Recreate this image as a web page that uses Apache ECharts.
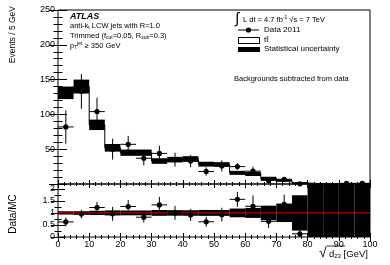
<!DOCTYPE html>
<html>
<head>
<meta charset="utf-8">
<script src="https://cdn.jsdelivr.net/npm/echarts@6/dist/echarts.min.js"></script>
<style>html,body{margin:0;padding:0;background:#fff;}#c{width:390px;height:265px;}</style>
</head>
<body>
<div id="c"></div>
<script>
// ---- data ----
const binLow = [0,5,10,15,20,25,30,35,40,45,50,55,60,65,70,75,80,85,90,95];
const binWidth = 5;
const mcValues = [131,140,85,52,45,45,33,35,36,28.5,28,16,14.5,8,5,1.5,0.3,0.3,0.3,0.3];
const mcStatErr = [9,10,7.5,5.5,4.5,4.5,4,4,4,3.5,3.4,2.9,3,2.4,1.9,1.1,0.5,0.5,0.5,0.5];
const dataX = [2.5,7.5,12.5,17.5,22.5,27.5,32.5,37.5,42.5,47.5,52.5,57.5,62.5,67.5,72.5,77.5,92.5,97.5];
const dataY = [82,133,104,50,57,37,44,35,33,18,26,25,18.5,5.2,6.8,0.2,1,1];
const dataErr = [24,25,20,15,12,10,11,10,9,6,8,5,6.5,2.2,2,0.3,1,1];
const mainTicks = [0,50,100,150,200,250];
const ratioTicks = [0,0.5,1,1.5,2];

const FONT = 'Liberation Sans, Arial, sans-serif';
const mainMax = 250, ratioMax = 2.2;

// build series data
const bandMain = binLow.map((x,i)=>[x, x+binWidth, mcValues[i]-mcStatErr[i], mcValues[i]+mcStatErr[i]]);
const bandRatio = binLow.map((x,i)=>[x, x+binWidth, 1-mcStatErr[i]/mcValues[i], 1+mcStatErr[i]/mcValues[i]]);
const mcStep = [];
binLow.forEach((x,i)=>{ mcStep.push([x, mcValues[i]]); mcStep.push([x+binWidth, mcValues[i]]); });
const dataMain = dataX.map((x,i)=>[x, dataY[i], dataErr[i]]);
const dataRatio = dataX.map((x,i)=>{
  const b = binLow.indexOf(x - binWidth/2);
  return [x, dataY[i]/mcValues[b], dataErr[i]/mcValues[b]];
});

function bandRender(params, api) {
  const cs = params.coordSys;
  const p0 = api.coord([api.value(0), api.value(3)]);
  const p1 = api.coord([api.value(1), api.value(2)]);
  const r = echarts.graphic.clipRectByRect(
    {x:p0[0], y:p0[1], width:p1[0]-p0[0], height:p1[1]-p0[1]},
    {x:cs.x, y:cs.y, width:cs.width, height:cs.height});
  if (!r) return;
  return {type:'rect', shape:r, style:{fill:'#000'}};
}
function makeErrRender(ymax) {
  return function(params, api) {
    const cs = params.coordSys;
    const x = api.value(0), y = api.value(1), e = api.value(2);
    if (y > ymax) return;
    const c = api.coord([x, y]);
    const t = api.coord([x, y + e]);
    const b = api.coord([x, Math.max(0, y - e)]);
    const l = api.coord([x - binWidth/2, y]);
    const r = api.coord([x + binWidth/2, y]);
    return {type:'group', children:[
      {type:'line', shape:{x1:c[0], y1:Math.max(t[1], cs.y), x2:c[0], y2:Math.min(b[1], cs.y+cs.height)}, style:{stroke:'#000', lineWidth:1}},
      {type:'line', shape:{x1:l[0], y1:c[1], x2:r[0], y2:c[1]}, style:{stroke:'#000', lineWidth:1}},
      {type:'circle', shape:{cx:c[0], cy:c[1], r:2.6}, style:{fill:'#000'}}
    ]};
  };
}

const lbl = {fontFamily:FONT, fontSize:9, color:'#000'};
function xAx(grid, pos, showLabel) {
  return {type:'value', gridIndex:grid, position:pos, min:0, max:100, interval:10,
    axisLine:{show:false}, splitLine:{show:false},
    axisTick:{show:true, inside:true, length:4, lineStyle:{color:'#000'}},
    minorTick:{show:true, splitNumber:5, length:2, lineStyle:{color:'#000'}},
    axisLabel:Object.assign({show:showLabel, margin:3}, lbl)};
}
function yAx(grid, pos, max, interval, showLabel, fmt, majLen, minLen, minSplit) {
  return {type:'value', gridIndex:grid, position:pos, min:0, max:max, interval:interval,
    axisLine:{show:false}, splitLine:{show:false},
    axisTick:{show:true, inside:true, length:majLen, lineStyle:{color:'#000'}},
    minorTick:{show:true, splitNumber:minSplit, length:minLen, lineStyle:{color:'#000'}},
    axisLabel:Object.assign({show:showLabel, margin:3, formatter:fmt}, lbl)};
}
const mainFmt = v => (mainTicks.indexOf(v) > 0 ? String(v) : '');
const ratioFmt = v => (ratioTicks.indexOf(Math.round(v*100)/100) >= 0 && Math.abs(v-Math.round(v*2)/2) < 1e-6 ? String(v) : '');

const sub = {fontFamily:FONT, fontSize:5, color:'#000', padding:[4,0,0,0]};
const sup = {fontFamily:FONT, fontSize:5, color:'#000', padding:[0,0,4,0]};

const option = {
  animation:false,
  backgroundColor:'#fff',
  grid:[
    {left:58, top:10, width:312, height:174, show:true, borderColor:'#000', borderWidth:1, backgroundColor:'transparent'},
    {left:58, top:184, width:312, height:53, show:true, borderColor:'#000', borderWidth:1, backgroundColor:'transparent'}
  ],
  xAxis:[ xAx(0,'bottom',false), xAx(0,'top',false), xAx(1,'bottom',true), xAx(1,'top',false) ],
  yAxis:[
    yAx(0,'left',mainMax,50,true,mainFmt,9,4.5,5),
    yAx(0,'right',mainMax,50,false,mainFmt,9,4.5,5),
    yAx(1,'left',ratioMax,0.5,true,ratioFmt,7,3.5,2),
    yAx(1,'right',ratioMax,0.5,false,ratioFmt,7,3.5,2)
  ],
  series:[
    {type:'custom', xAxisIndex:0, yAxisIndex:0, renderItem:bandRender, data:bandMain, encode:{x:[0,1], y:[2,3]}, z:2},
    {type:'line', xAxisIndex:0, yAxisIndex:0, data:mcStep, showSymbol:false, symbol:'none', lineStyle:{color:'#000', width:1}, z:3},
    {type:'custom', xAxisIndex:0, yAxisIndex:0, renderItem:makeErrRender(mainMax), data:dataMain, encode:{x:0, y:1}, z:4},
    {type:'custom', xAxisIndex:2, yAxisIndex:2, renderItem:bandRender, data:bandRatio, encode:{x:[0,1], y:[2,3]}, z:2},
    {type:'line', xAxisIndex:2, yAxisIndex:2, data:[[0,1],[100,1]], showSymbol:false, symbol:'none', lineStyle:{color:'#e00000', width:1}, z:3},
    {type:'custom', xAxisIndex:2, yAxisIndex:2, renderItem:makeErrRender(ratioMax), data:dataRatio, encode:{x:0, y:1}, z:4}
  ],
  graphic:[
    // axis titles
    {type:'text', x:13, y:6, rotation:Math.PI/2, style:{text:'Events / 5 GeV', fontFamily:FONT, fontSize:8.5, fill:'#000', align:'right', verticalAlign:'middle'}},
    {type:'text', x:13, y:214, rotation:Math.PI/2, style:{text:'Data/MC', fontFamily:FONT, fontSize:10, fill:'#000', align:'center', verticalAlign:'middle'}},
    {type:'text', x:319, y:253, style:{text:'\u221A', fontFamily:FONT, fontSize:14, fill:'#000', verticalAlign:'middle'}},
    {type:'line', shape:{x1:327, y1:246, x2:345, y2:246}, style:{stroke:'#000', lineWidth:0.8}},
    {type:'text', x:329, y:254, style:{text:'d{s|23} [GeV]', fontFamily:FONT, fontSize:9.5, fill:'#000', verticalAlign:'middle', rich:{s:{fontFamily:FONT, fontSize:6, fill:'#000', padding:[5,0,0,0]}}}},
    // ATLAS label block
    {type:'text', x:70, y:17, style:{text:'ATLAS', fontFamily:FONT, fontSize:9, fontWeight:'bold', fontStyle:'italic', fill:'#000', verticalAlign:'middle'}},
    {type:'text', x:70, y:26, style:{text:'anti-k{s|t} LCW jets with R=1.0', fill:'#000', verticalAlign:'middle', fontFamily:FONT, fontSize:7.5, rich:{s:sub}}},
    {type:'text', x:70, y:36, style:{text:'Trimmed (f{s|cut}=0.05, R{s|sub}=0.3)', fill:'#000', verticalAlign:'middle', fontFamily:FONT, fontSize:7.5, rich:{s:sub}}},
    {type:'text', x:70, y:45.5, style:{text:'p{s|T}{u|jet} \u2265 350 GeV', fill:'#000', verticalAlign:'middle', fontFamily:FONT, fontSize:7.5, rich:{s:sub, u:sup}}},
    // legend
    {type:'text', x:235, y:19, style:{text:'\u222B', fontFamily:FONT, fontSize:15, fill:'#000', verticalAlign:'middle'}},
    {type:'text', x:243, y:20, style:{text:'L dt = 4.7 fb{u|-1} \u221As = 7 TeV', fill:'#000', verticalAlign:'middle', fontFamily:FONT, fontSize:7.5, rich:{u:sup}}},
    {type:'line', shape:{x1:238, y1:30, x2:259, y2:30}, style:{stroke:'#000', lineWidth:1}},
    {type:'circle', shape:{cx:248.5, cy:30, r:2.6}, style:{fill:'#000'}},
    {type:'text', x:264, y:30, style:{text:'Data 2011', fontFamily:FONT, fontSize:8, fill:'#000', verticalAlign:'middle'}},
    {type:'rect', shape:{x:238.5, y:37.5, width:21, height:6}, style:{fill:'#fff', stroke:'#000', lineWidth:1}},
    {type:'text', x:264, y:40, style:{text:'tt\u0304', fontFamily:FONT, fontSize:8, fill:'#000', verticalAlign:'middle'}},
    {type:'rect', shape:{x:238, y:47, width:22, height:5}, style:{fill:'#000'}},
    {type:'text', x:264, y:49, style:{text:'Statistical uncertainty', fontFamily:FONT, fontSize:8, fill:'#000', verticalAlign:'middle'}},
    {type:'text', x:234, y:79, style:{text:'Backgrounds subtracted from data', fontFamily:FONT, fontSize:7.5, fill:'#000', verticalAlign:'middle'}}
  ]
};
const chart = echarts.init(document.getElementById('c'), null, {renderer:'canvas'});
chart.setOption(option);
</script>
</body>
</html>
